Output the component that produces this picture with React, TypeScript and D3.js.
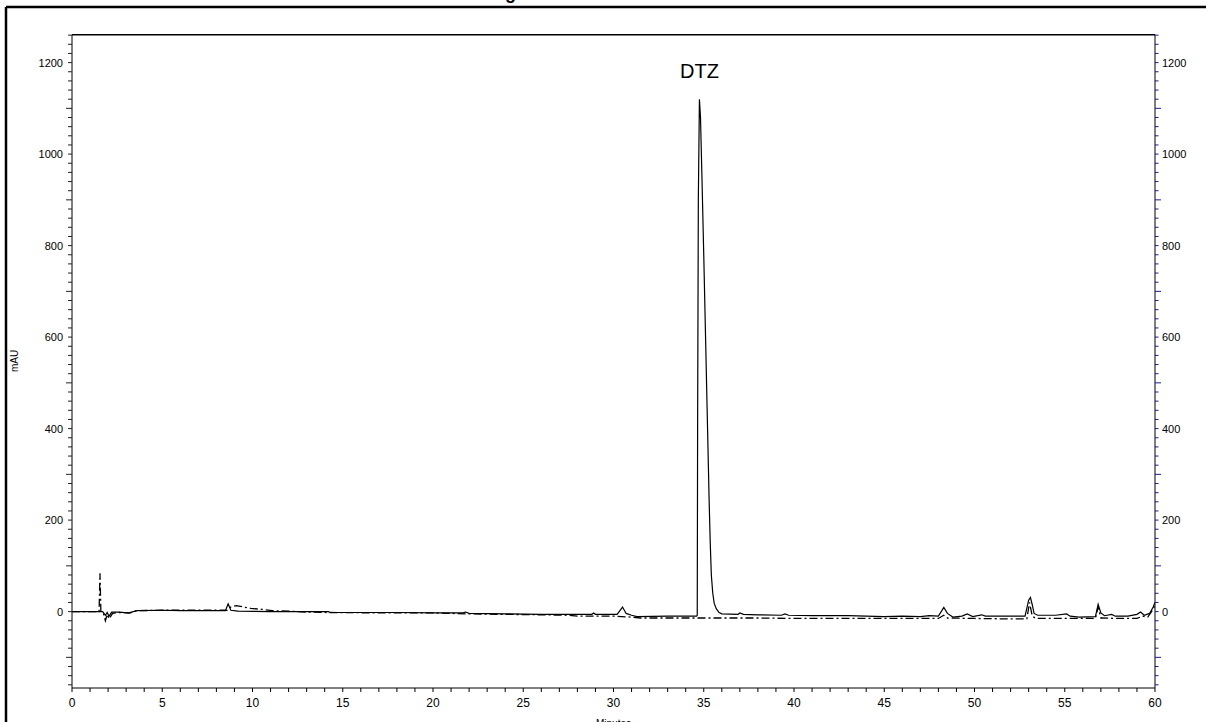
import React from "react";
import * as d3 from "d3";

// Sample trace (solid): [minutes, mAU]
const sampleTrace: [number, number][] = [
  [0, 0], [1.5, 0], [1.7, 0], [1.85, -8], [1.95, -2], [2.05, -10], [2.2, -1], [2.6, -1],
  [3.1, -3], [3.3, -1], [3.6, 2], [5, 3], [6, 2], [7, 2], [8.5, 2], [8.65, 17], [8.8, 3],
  [9.2, 1], [11, 0], [13, 0], [14.2, 0], [14.3, -2], [18, -2], [20.2, -3], [21.6, -3],
  [21.8, -1], [22, -4], [24, -5], [26, -6], [28, -6], [28.8, -6], [28.9, -3], [29, -6],
  [30.2, -6], [30.5, 10], [30.7, -4], [31, -8], [31.3, -11], [33, -10], [34.6, -10],
  [34.64, -8], [34.66, 400], [34.7, 900], [34.76, 1120], [34.82, 1080], [34.9, 950],
  [35.0, 780], [35.1, 600], [35.2, 420], [35.3, 240], [35.36, 150], [35.42, 80],
  [35.5, 40], [35.58, 18], [35.7, 6], [35.85, -2], [36.0, -5], [36.9, -6], [37, -3],
  [37.2, -6], [38, -7], [39.3, -8], [39.5, -5], [39.7, -8], [41, -9], [43, -9], [44, -10],
  [45, -11], [46, -10], [47, -11], [47.5, -9], [48.0, -10], [48.3, 9], [48.5, -4],
  [48.8, -12], [49.3, -10], [49.6, -5], [49.9, -11], [50.4, -7], [50.6, -10], [51, -10],
  [52.8, -10], [53.0, 25], [53.1, 31], [53.2, 15], [53.3, -4], [53.5, -8], [54.5, -8],
  [55.1, -5], [55.3, -10], [55.8, -12], [56.7, -11], [56.85, 16], [57.0, -3], [57.2, -9],
  [57.6, -6], [57.8, -10], [58.5, -10], [59.0, -6], [59.2, -1], [59.4, -8], [59.7, -4],
  [59.9, 10], [60, 20],
];

// Blank trace (dash-dot): [minutes, mAU]
const blankTrace: [number, number][] = [
  [0, 0], [1.5, 0], [1.55, 84], [1.6, 0], [1.75, -5], [1.85, -20], [1.95, -6],
  [2.05, -16], [2.25, -4], [2.6, -2], [3.2, -3], [3.6, 2], [5, 3], [7, 3], [8.6, 3],
  [8.8, 10], [9.1, 13], [9.5, 10], [9.9, 7], [10.5, 5], [11.1, 2], [12, 1], [13, -1],
  [14.2, -2], [18, -3], [20, -3], [22, -5], [24, -6], [26, -7], [27.5, -8], [28, -10],
  [30, -10], [31, -12], [31.5, -14], [34, -14], [36, -14], [38, -14], [40, -15],
  [42, -15], [44, -15], [46, -15], [48, -15], [48.3, -8], [48.5, -14], [50, -15],
  [52, -16], [52.9, -16], [53.05, 20], [53.2, -10], [53.4, -15], [55, -15], [56.7, -15],
  [56.85, 10], [57, -14], [58, -15], [59, -15], [59.3, -10], [59.6, -12], [59.9, 5],
  [60, 15],
];

const xTickLabels = [0, 5, 10, 15, 20, 25, 30, 35, 40, 45, 50, 55, 60];
const yTickLabels = [0, 200, 400, 600, 800, 1000, 1200];
const peakLabels: { name: string; t: number; v: number }[] = [
  { name: "DTZ", t: 34.76, v: 1120 },
];

const W = 1206;
const H = 722;
const L = 72;
const R = 1155;
const T = 34.7;
const B = 688;

export default function App() {
  const x = d3.scaleLinear().domain([0, 60]).range([L, R]);
  const y = d3.scaleLinear().domain([-167, 1261]).range([B, T]);
  const line = d3
    .line<[number, number]>()
    .x((d) => x(d[0]))
    .y((d) => y(d[1]));

  const minorY = d3.range(-160, 1261, 20);
  const minorX = d3.range(0, 60.01, 1);
  const font = "'Liberation Sans', Arial, sans-serif";

  return (
    <svg
      width={W}
      height={H}
      style={{ position: "absolute", left: 0, top: 0, display: "block", background: "#fff" }}
    >
      <defs>
        <clipPath id="plotclip">
          <rect x={L} y={T} width={R - L} height={B - T} />
        </clipPath>
      </defs>
      <rect x={0} y={0} width={W} height={H} fill="#fff" />
      {/* title (mostly cut off at top) */}
      <text x={420} y={-1} fontFamily={font} fontWeight="bold" fontSize={18} fill="#000">
        Chromatogram
      </text>
      {/* outer frame */}
      <line x1={6} y1={7} x2={W} y2={7} stroke="#000" strokeWidth={2.5} />
      <line x1={6} y1={7} x2={6} y2={H} stroke="#000" strokeWidth={2.5} />

      {/* plot frame */}
      <line x1={L} y1={T} x2={R} y2={T} stroke="#000" strokeWidth={1.5} />
      <line x1={L} y1={T} x2={L} y2={B} stroke="#000" strokeWidth={1} />
      <line x1={R} y1={T} x2={R} y2={B} stroke="#000" strokeWidth={1} />
      <line x1={L} y1={B} x2={R} y2={B} stroke="#000" strokeWidth={1} />

      {/* y ticks left and right */}
      {minorY.map((v) => {
        const long = Math.abs(v % 200) === 100;
        return (
          <g key={"yt" + v}>
            <line x1={L} x2={L - (long ? 6 : 4)} y1={y(v)} y2={y(v)} stroke="#222" strokeWidth={1} />
            <line x1={R} x2={R + (long ? 6 : 3.5)} y1={y(v)} y2={y(v)} stroke="#1a1a9a" strokeWidth={1} />
          </g>
        );
      })}
      {yTickLabels.map((v) => (
        <g key={"yl" + v}>
          <text x={L - 9} y={y(v) + 4} textAnchor="end" fontFamily={font} fontSize={11} fill="#000">
            {v}
          </text>
          <text x={R + 7} y={y(v) + 4} textAnchor="start" fontFamily={font} fontSize={11} fill="#000">
            {v}
          </text>
        </g>
      ))}

      {/* x ticks */}
      {minorX.map((t) => (
        <line key={"xt" + t} x1={x(t)} x2={x(t)} y1={B} y2={B + 4} stroke="#000" strokeWidth={1} />
      ))}
      {xTickLabels.map((t) => (
        <text key={"xl" + t} x={x(t)} y={B + 19} textAnchor="middle" fontFamily={font} fontSize={12} fill="#000">
          {t}
        </text>
      ))}

      {/* axis titles */}
      <text x={(L + R) / 2} y={727} textAnchor="middle" fontFamily={font} fontSize={10} fill="#000">
        Minutes
      </text>
      <text
        transform={`translate(18, 361) rotate(-90)`}
        textAnchor="middle"
        fontFamily={font}
        fontSize={10}
        fill="#000"
      >
        mAU
      </text>

      {/* traces */}
      <g clipPath="url(#plotclip)">
        <path d={line(blankTrace) || ""} fill="none" stroke="#000" strokeWidth={1.3} strokeDasharray="8,3,2,3" />
        <path d={line(sampleTrace) || ""} fill="none" stroke="#000" strokeWidth={1.2} />
      </g>

      {peakLabels.map((p) => (
        <text
          key={p.name}
          x={x(p.t)}
          y={y(p.v) - 21}
          textAnchor="middle"
          fontFamily={font}
          fontSize={20}
          fill="#000"
        >
          {p.name}
        </text>
      ))}
    </svg>
  );
}
